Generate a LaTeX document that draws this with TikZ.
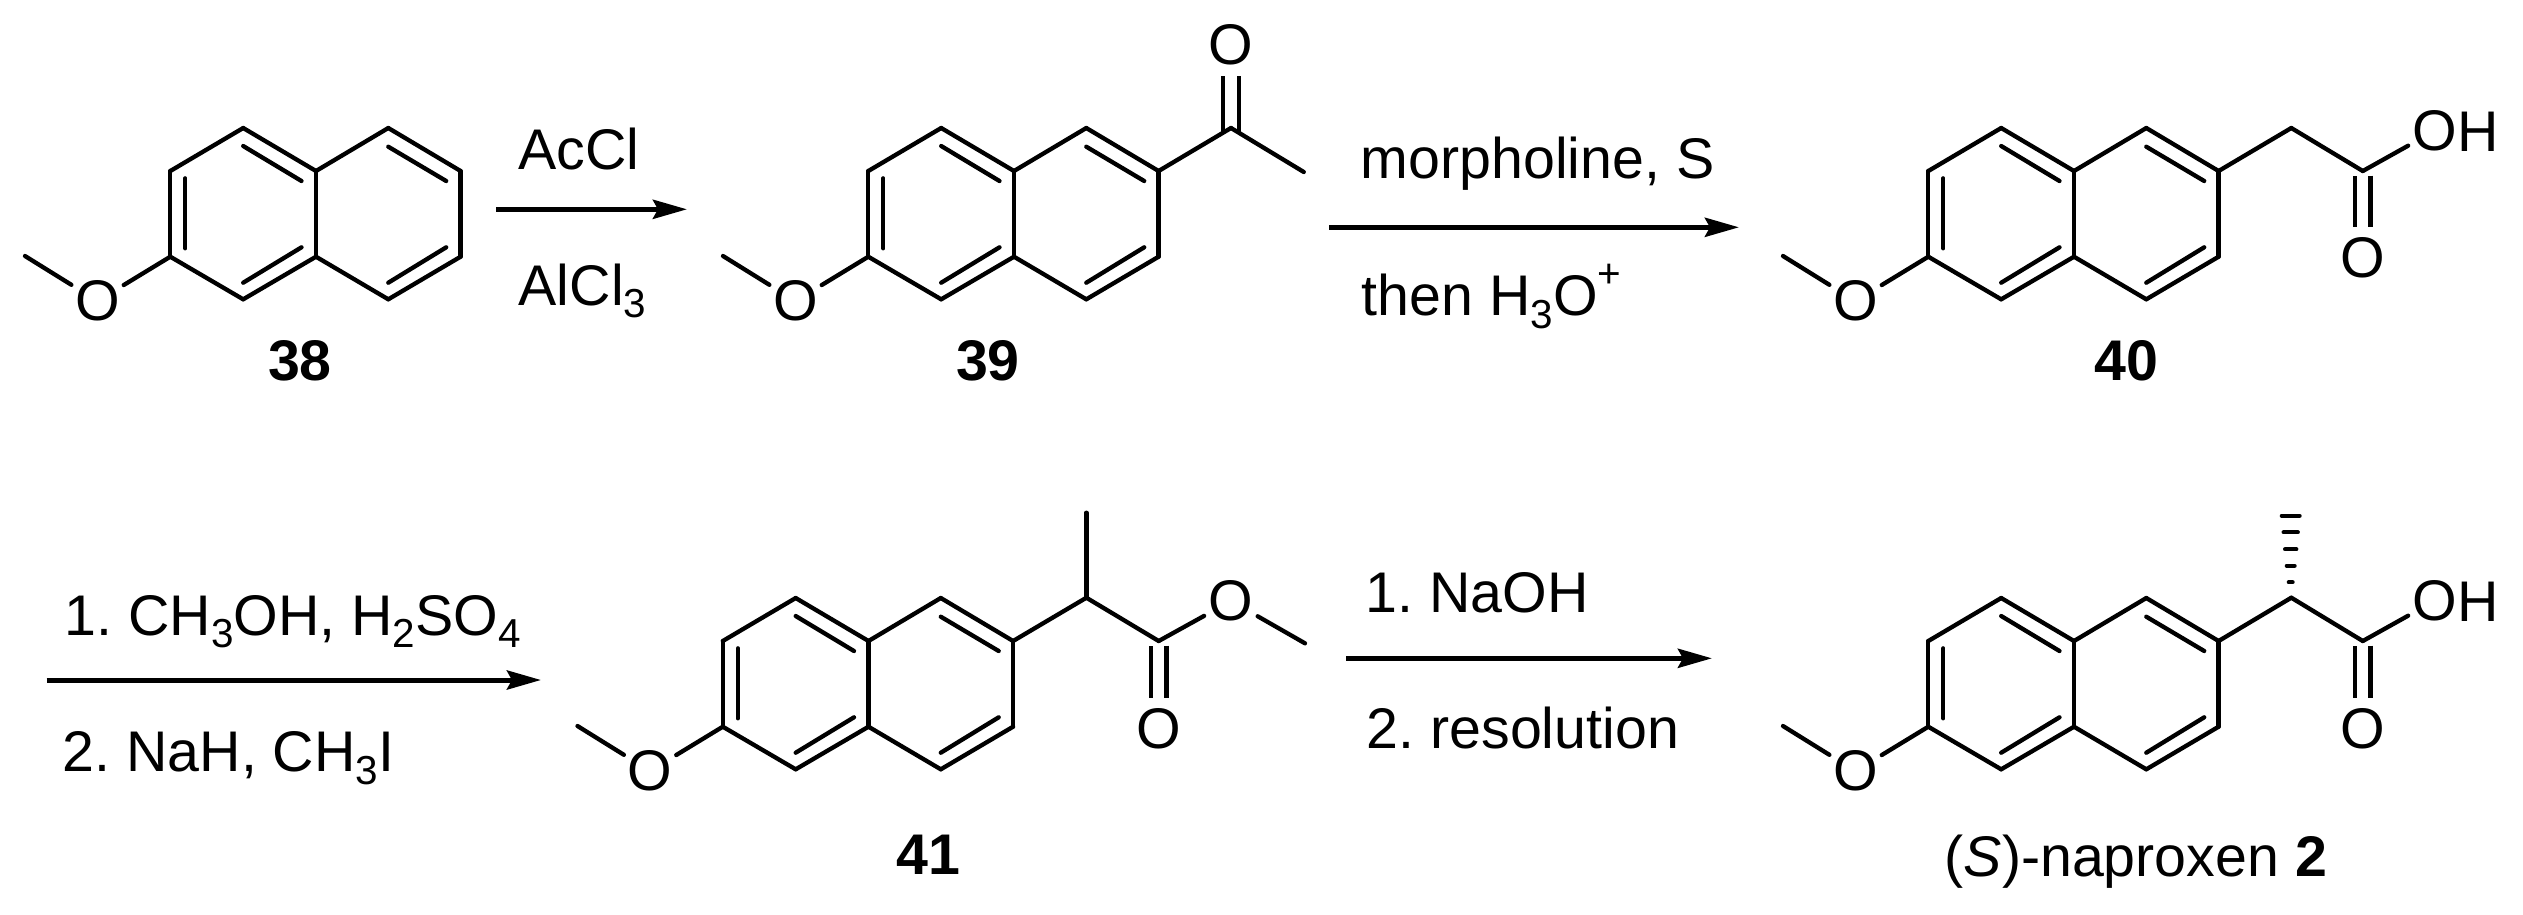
\documentclass[tikz,border=0pt]{standalone}
\usepackage{fontspec}
\setmainfont{Liberation Sans}
\usetikzlibrary{arrows.meta}
\frenchspacing

\tikzset{
  bond/.style={line width=.043cm,line cap=round},
  dblbond/.style={line width=.043cm,double,double distance=.111cm},
  hashbond/.style={line width=.04cm,line cap=round},
  rxn/.style={line width=.05cm,-{Stealth[length=.34cm,width=.19cm,inset=.05cm]}},
  atom/.style={circle,inner sep=0pt,minimum size=.58cm},
  reagent/.style={anchor=base west,inner sep=0pt},
  cmpd/.style={anchor=base,inner sep=0pt,font=\fontsize{16.3}{19}\selectfont\bfseries}
}
\newcommand{\chemsub}[1]{\raisebox{-.22em}{\fontsize{11.5}{12}\selectfont #1}}
\newcommand{\chemsup}[1]{\raisebox{.5em}{\fontsize{11.5}{12}\selectfont #1}}
\newcommand{\naphthalene}[3]{%
  \begin{scope}[shift={(#1,#2)}]
    \coordinate (#3a) at (170.3,171);
    \coordinate (#3b) at (243.2,128);
    \coordinate (#3c) at (316,171);
    \coordinate (#3d) at (316,256.7);
    \coordinate (#3e) at (243.2,299.3);
    \coordinate (#3f) at (170.3,256.7);
    \coordinate (#3g) at (388.3,128);
    \coordinate (#3h) at (460.6,171);
    \coordinate (#3i) at (460.6,256.7);
    \coordinate (#3j) at (388.3,299.3);
    \coordinate (#3p) at (185.3,178.3);
    \coordinate (#3q) at (185.3,248.3);
    \coordinate (#3r) at (243.2,146);
    \coordinate (#3s) at (301.5,181);
    \coordinate (#3t) at (243.2,282.7);
    \coordinate (#3u) at (301.5,247.3);
    \coordinate (#3v) at (388.3,146.7);
    \coordinate (#3w) at (446.2,181);
    \coordinate (#3x) at (388.3,282.7);
    \coordinate (#3y) at (446.2,247.3);
    \coordinate (#3me) at (25,256);
    \node[atom] (#3o) at (97.5,301) {O};
  \end{scope}
  \foreach \from/\to in {a/b,b/c,c/d,d/e,e/f,f/a,c/g,g/h,h/i,i/j,j/d,p/q,r/s,t/u,v/w,x/y,f/o,o/me}
    \draw[bond] (#3\from) -- (#3\to);
}

\begin{document}
\begin{tikzpicture}
  [x=.01cm,y=-.01cm,every node/.append style={font=\fontsize{16.3}{19}\selectfont}]
  \useasboundingbox (0,0) rectangle (2523,914);

  \naphthalene{0}{0}{m38}
  \naphthalene{698}{0}{m39}
  \naphthalene{1758}{0}{m40}
  \naphthalene{552.5}{470}{m41}
  \naphthalene{1758}{470}{m2}

  \coordinate (c39a) at (1231,128);
  \coordinate (c39b) at (1303.8,172);
  \node[atom] (o39) at (1231,45) {O};
  \draw[dblbond,shorten <=-.045cm] (c39a) -- (o39);
  \foreach \from/\to in {m39h/c39a,c39a/c39b}
    \draw[bond] (\from) -- (\to);

  \coordinate (c40a) at (2291.3,128);
  \coordinate (c40b) at (2362.8,171);
  \node[atom] (o40a) at (2435,130.7) {O};
  \node[reagent] (h40) at (2457,151.5) {H};
  \node[atom] (o40b) at (2362.8,258) {O};
  \draw[dblbond,shorten <=.045cm] (c40b) -- (o40b);
  \foreach \from/\to in {m40h/c40a,c40a/c40b,c40b/o40a}
    \draw[bond] (\from) -- (\to);

  \coordinate (c41a) at (1086.4,597.7);
  \coordinate (c41b) at (1158.7,641);
  \coordinate (c41c) at (1086.4,512.7);
  \coordinate (c41d) at (1305,643.3);
  \node[atom] (o41a) at (1231,601) {O};
  \node[atom] (o41b) at (1158.7,728.3) {O};
  \draw[dblbond,shorten <=.045cm] (c41b) -- (o41b);
  \foreach \from/\to in {m41h/c41a,c41a/c41c,c41a/c41b,c41b/o41a,o41a/c41d}
    \draw[bond] (\from) -- (\to);

  \coordinate (c2a) at (2291.3,597.7);
  \coordinate (c2b) at (2362.8,641);
  \node[atom] (o2a) at (2435,600.7) {O};
  \node[reagent] (h2) at (2457,621.5) {H};
  \node[atom] (o2b) at (2362.8,728.3) {O};
  \draw[dblbond,shorten <=.045cm] (c2b) -- (o2b);
  \foreach \from/\to in {m2h/c2a,c2a/c2b,c2b/o2a}
    \draw[bond] (\from) -- (\to);
  \foreach \ypos/\half in {515.7/9,532.3/7.2,549.3/5.7,565.7/4,582.3/2}
    \draw[hashbond] (2290.7-\half,\ypos) -- (2290.7+\half,\ypos);

  \coordinate (a1s) at (496,209.3);
  \coordinate (a1e) at (687,209.3);
  \coordinate (a2s) at (1329,227.3);
  \coordinate (a2e) at (1739,227.3);
  \coordinate (a3s) at (46.6,680);
  \coordinate (a3e) at (541,680);
  \coordinate (a4s) at (1346,658.3);
  \coordinate (a4e) at (1712,658.3);
  \foreach \from/\to in {a1s/a1e,a2s/a2e,a3s/a3e,a4s/a4e}
    \draw[rxn] (\from) -- (\to);

  \node[reagent] (r1a) at (518,169.3) {AcCl};
  \node[reagent] (r1b) at (518,305.3) {AlCl\chemsub{3}};
  \node[reagent] (r2a) at (1360,178) {morpholine, S};
  \node[reagent] (r2b) at (1361,315.7) {then H\chemsub{3}O\chemsup{+}};
  \node[reagent] (r3a) at (64,635) {1. CH\chemsub{3}OH, H\chemsub{2}SO\chemsub{4}};
  \node[reagent] (r3b) at (62,771.7) {2. NaH, CH\chemsub{3}I};
  \node[reagent] (r4a) at (1365,612.7) {1. NaOH};
  \node[reagent] (r4b) at (1366,748) {2. resolution};

  \node[cmpd] (l38) at (300,380) {38};
  \node[cmpd] (l39) at (988,380) {39};
  \node[cmpd] (l40) at (2126,380) {40};
  \node[cmpd] (l41) at (928.4,874.3) {41};
  \node[reagent] (l2) at (1944,876.7) {(\textit{S})-naproxen \textbf{2}};
\end{tikzpicture}
\end{document}
